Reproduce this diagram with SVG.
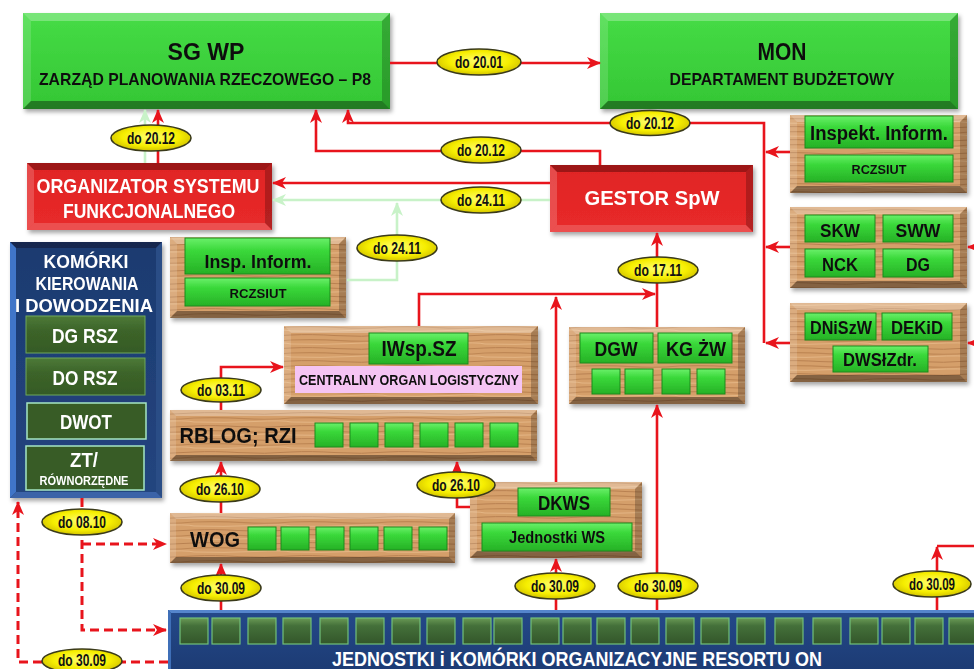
<svg xmlns="http://www.w3.org/2000/svg" width="974" height="669" viewBox="0 0 974 669">
<defs>
<style>
text{font-family:"Liberation Sans",Arial,sans-serif;font-weight:bold;text-anchor:middle}
.dk{fill:#111}
.wh{fill:#fff}
.tl{fill:#fff;opacity:.28}
.ll{fill:#fff;opacity:.14}
.rd{fill:#000;opacity:.22}
.bd{fill:#000;opacity:.38}
.it{fill:#000;opacity:.3}
.ib{fill:#fff;opacity:.18}
.btn{fill:url(#gBtn);stroke:#1d8a1d;stroke-width:1}
.sq{fill:url(#gBtn);stroke:#1d8a1d;stroke-width:1}
.dsq{fill:url(#gDsq);stroke:#72c07a;stroke-width:1.2}
.wood{fill:url(#wood)}
.ln{fill:none;stroke:#e8141c;stroke-width:2.6;marker-end:url(#ar)}
.lnn{fill:none;stroke:#e8141c;stroke-width:2.6}
.lg{fill:none;stroke:#c8f2c8;stroke-width:2.6;marker-end:url(#ag)}
.ds{fill:none;stroke:#e8141c;stroke-width:3;stroke-dasharray:9 5;marker-end:url(#ar)}
.lab ellipse{fill:url(#gYel);stroke:#3a3a1a;stroke-width:1.6}
.lab text{font-size:16px;fill:#111}
.sh{filter:url(#shadow)}
</style>
<filter id="shadow" x="-10%" y="-10%" width="130%" height="140%">
<feDropShadow dx="2" dy="3" stdDeviation="2" flood-color="#000" flood-opacity=".35"/>
</filter>
<marker id="ar" viewBox="0 0 14 12" markerWidth="14" markerHeight="12" refX="13" refY="6" orient="auto" markerUnits="userSpaceOnUse">
<path d="M0,0 L14,6 L0,12 L4,6 z" fill="#e8141c"/>
</marker>
<marker id="ag" viewBox="0 0 14 12" markerWidth="14" markerHeight="12" refX="13" refY="6" orient="auto" markerUnits="userSpaceOnUse">
<path d="M0,0 L14,6 L0,12 L4,6 z" fill="#c8f2c8"/>
</marker>
<linearGradient id="gGreen" x1="0" y1="0" x2="0" y2="1"><stop offset="0" stop-color="#46dc46"/><stop offset="1" stop-color="#34c634"/></linearGradient>
<linearGradient id="gBtn" x1="0" y1="0" x2="0" y2="1"><stop offset="0" stop-color="#6af06a"/><stop offset=".35" stop-color="#3ad83a"/><stop offset="1" stop-color="#26b126"/></linearGradient>
<linearGradient id="gDsq" x1="0" y1="0" x2="0" y2="1"><stop offset="0" stop-color="#6a9a55"/><stop offset=".3" stop-color="#44703a"/><stop offset="1" stop-color="#33562a"/></linearGradient>
<linearGradient id="gRed" x1="0" y1="0" x2="0" y2="1"><stop offset="0" stop-color="#e02424"/><stop offset="1" stop-color="#e82a2a"/></linearGradient>
<linearGradient id="gBlue" x1="0" y1="0" x2="0" y2="1"><stop offset="0" stop-color="#1c3a70"/><stop offset="1" stop-color="#23457f"/></linearGradient>
<linearGradient id="gBand" x1="0" y1="0" x2="0" y2="1"><stop offset="0" stop-color="#24498a"/><stop offset="1" stop-color="#1c3a72"/></linearGradient>
<linearGradient id="gPan" x1="0" y1="0" x2="0" y2="1"><stop offset="0" stop-color="#4d7a38"/><stop offset=".4" stop-color="#3c6429"/><stop offset="1" stop-color="#355a25"/></linearGradient>
<radialGradient id="gYel" cx=".5" cy=".45" r=".6"><stop offset="0" stop-color="#ffff70"/><stop offset=".6" stop-color="#f6ee00"/><stop offset="1" stop-color="#c9b800"/></radialGradient>
<pattern id="wood" width="97" height="13" patternUnits="userSpaceOnUse">
<rect width="97" height="13" fill="#d59f6b"/>
<path d="M0,2 Q25,1 50,2.6 T97,2" stroke="#bf8754" stroke-width="1.2" fill="none"/>
<path d="M0,6 Q30,7 60,5.5 T97,6" stroke="#e4b583" stroke-width="1" fill="none"/>
<path d="M0,10 Q20,9 45,10.6 T97,10" stroke="#b98150" stroke-width="1" fill="none"/>
</pattern>
</defs>
<rect width="974" height="669" fill="#fff"/>

<!-- SG WP -->
<g id="sgwp" class="sh">
<rect x="23" y="13" width="367" height="96" fill="url(#gGreen)"/>
<polygon class="tl" points="23,13 390,13 382,21 31,21"/>
<polygon class="ll" points="23,13 31,21 31,101 23,109"/>
<polygon class="rd" points="390,13 390,109 382,101 382,21"/>
<polygon class="bd" points="23,109 31,101 382,101 390,109"/>
<text class="dk" x="206" y="60" font-size="24" textLength="77" lengthAdjust="spacingAndGlyphs">SG WP</text>
<text class="dk" x="205" y="85" font-size="17" textLength="332" lengthAdjust="spacingAndGlyphs">ZARZĄD PLANOWANIA RZECZOWEGO – P8</text>
</g>

<!-- MON -->
<g id="mon" class="sh">
<rect x="600" y="13" width="358" height="96" fill="url(#gGreen)"/>
<polygon class="tl" points="600,13 958,13 950,21 608,21"/>
<polygon class="ll" points="600,13 608,21 608,101 600,109"/>
<polygon class="rd" points="958,13 958,109 950,101 950,21"/>
<polygon class="bd" points="600,109 608,101 950,101 958,109"/>
<text class="dk" x="782" y="60" font-size="24" textLength="49" lengthAdjust="spacingAndGlyphs">MON</text>
<text class="dk" x="782" y="85" font-size="17" textLength="225" lengthAdjust="spacingAndGlyphs">DEPARTAMENT BUDŻETOWY</text>
</g>

<!-- ORGANIZATOR -->
<g id="organizator" class="sh">
<rect x="27" y="163" width="245" height="67" fill="url(#gRed)"/>
<polygon class="it" points="27,163 272,163 265,170 34,170"/>
<polygon class="ib" points="27,163 34,170 34,223 27,230"/>
<polygon class="rd" points="272,163 272,230 265,223 265,170"/>
<polygon class="ib" points="27,230 34,223 265,223 272,230"/>
<text class="wh" x="148" y="193" font-size="20" textLength="223" lengthAdjust="spacingAndGlyphs">ORGANIZATOR  SYSTEMU</text>
<text class="wh" x="149" y="218" font-size="20" textLength="172" lengthAdjust="spacingAndGlyphs">FUNKCJONALNEGO</text>
</g>

<!-- GESTOR -->
<g id="gestor" class="sh">
<rect x="550" y="165" width="203" height="67" fill="url(#gRed)"/>
<polygon class="it" points="550,165 753,165 746,172 557,172"/>
<polygon class="ib" points="550,165 557,172 557,225 550,232"/>
<polygon class="rd" points="753,165 753,232 746,225 746,172"/>
<polygon class="ib" points="550,232 557,225 746,225 753,232"/>
<text class="wh" x="652" y="205" font-size="21" textLength="135" lengthAdjust="spacingAndGlyphs">GESTOR SpW</text>
</g>

<!-- Insp. Inform. (left) -->
<g id="insp-left" class="sh">
<rect class="wood" x="170" y="237" width="176" height="81"/>
<polygon class="tl" points="170,237 346,237 339,244 177,244"/>
<polygon class="ll" points="170,237 177,244 177,311 170,318"/>
<polygon class="rd" points="346,237 346,318 339,311 339,244"/>
<polygon class="bd" points="170,318 177,311 339,311 346,318"/>
<rect class="btn" x="185" y="238" width="145" height="36"/>
<rect class="btn" x="185" y="278" width="145" height="28"/>
<text class="dk" x="258" y="268" font-size="18" textLength="107" lengthAdjust="spacingAndGlyphs">Insp. Inform.</text>
<text class="dk" x="258" y="298" font-size="13" textLength="57" lengthAdjust="spacingAndGlyphs">RCZSIUT</text>
</g>

<!-- KOMORKI panel -->
<g id="komorki" class="sh">
<rect x="10" y="242" width="152" height="256" fill="url(#gBlue)"/>
<polygon class="it" points="10,242 162,242 156,248 16,248"/>
<polygon fill="#3f74c8" points="10,242 16,248 16,492 10,498"/>
<polygon fill="#2b4d86" points="162,242 162,498 156,492 156,248"/>
<polygon fill="#3a63a8" points="10,498 16,492 156,492 162,498"/>
<text class="wh" x="86" y="268" font-size="18" textLength="85" lengthAdjust="spacingAndGlyphs">KOMÓRKI</text>
<text class="wh" x="87" y="290" font-size="18" textLength="103" lengthAdjust="spacingAndGlyphs">KIEROWANIA</text>
<text class="wh" x="84" y="312" font-size="18" textLength="138" lengthAdjust="spacingAndGlyphs">I DOWODZENIA</text>
<rect x="26" y="316" width="119" height="37" fill="url(#gPan)" stroke="#6ea85a" stroke-width="1"/>
<text class="wh" x="85" y="343" font-size="20" textLength="66" lengthAdjust="spacingAndGlyphs">DG RSZ</text>
<rect x="26" y="358" width="119" height="37" fill="url(#gPan)" stroke="#6ea85a" stroke-width="1"/>
<text class="wh" x="85" y="385" font-size="20" textLength="65" lengthAdjust="spacingAndGlyphs">DO RSZ</text>
<rect x="27" y="403" width="119" height="36" fill="#375c27" stroke="#a6e6c4" stroke-width="1.5"/>
<text class="wh" x="86" y="429" font-size="20" textLength="52" lengthAdjust="spacingAndGlyphs">DWOT</text>
<rect x="26" y="446" width="118" height="44" fill="#375c27" stroke="#a6e6c4" stroke-width="1.5"/>
<text class="wh" x="84" y="467" font-size="20" textLength="28" lengthAdjust="spacingAndGlyphs">ZT/</text>
<text class="wh" x="84" y="485" font-size="12" textLength="89" lengthAdjust="spacingAndGlyphs">RÓWNORZĘDNE</text>
</g>

<!-- IWsp.SZ -->
<g id="iwsp" class="sh">
<rect class="wood" x="284" y="326" width="254" height="78"/>
<polygon class="tl" points="284,326 538,326 531,333 291,333"/>
<polygon class="ll" points="284,326 291,333 291,397 284,404"/>
<polygon class="rd" points="538,326 538,404 531,397 531,333"/>
<polygon class="bd" points="284,404 291,397 531,397 538,404"/>
<rect class="btn" x="369" y="333" width="99" height="31"/>
<text class="dk" x="419" y="356" font-size="22" textLength="75" lengthAdjust="spacingAndGlyphs">IWsp.SZ</text>
<rect x="295" y="366" width="227" height="27" fill="#f5c4f3"/>
<text class="dk" x="409" y="385" font-size="15" textLength="220" lengthAdjust="spacingAndGlyphs">CENTRALNY ORGAN LOGISTYCZNY</text>
</g>

<!-- DGW / KG ZW -->
<g id="dgw" class="sh">
<rect class="wood" x="569" y="327" width="176" height="77"/>
<polygon class="tl" points="569,327 745,327 738,334 576,334"/>
<polygon class="ll" points="569,327 576,334 576,397 569,404"/>
<polygon class="rd" points="745,327 745,404 738,397 738,334"/>
<polygon class="bd" points="569,404 576,397 738,397 745,404"/>
<rect class="btn" x="580" y="333" width="73" height="30"/>
<rect class="btn" x="658" y="333" width="74" height="30"/>
<text class="dk" x="616" y="356" font-size="20" textLength="43" lengthAdjust="spacingAndGlyphs">DGW</text>
<text class="dk" x="696" y="356" font-size="20" textLength="60" lengthAdjust="spacingAndGlyphs">KG ŻW</text>
<rect class="sq" x="592" y="369" width="28" height="25"/>
<rect class="sq" x="625" y="369" width="28" height="25"/>
<rect class="sq" x="662" y="369" width="28" height="25"/>
<rect class="sq" x="697" y="369" width="28" height="25"/>
</g>

<!-- RBLOG -->
<g id="rblog" class="sh">
<rect class="wood" x="170" y="410" width="367" height="51"/>
<polygon class="tl" points="170,410 537,410 531,416 176,416"/>
<polygon class="ll" points="170,410 176,416 176,455 170,461"/>
<polygon class="rd" points="537,410 537,461 531,455 531,416"/>
<polygon class="bd" points="170,461 176,455 531,455 537,461"/>
<text class="dk" x="238" y="443" font-size="22" textLength="117" lengthAdjust="spacingAndGlyphs">RBLOG; RZI</text>
<rect class="sq" x="315" y="423" width="28" height="24"/>
<rect class="sq" x="350" y="423" width="28" height="24"/>
<rect class="sq" x="385" y="423" width="28" height="24"/>
<rect class="sq" x="420" y="423" width="28" height="24"/>
<rect class="sq" x="455" y="423" width="28" height="24"/>
<rect class="sq" x="490" y="423" width="28" height="24"/>
</g>

<!-- WOG -->
<g id="wog" class="sh">
<rect class="wood" x="170" y="513" width="285" height="50"/>
<polygon class="tl" points="170,513 455,513 449,519 176,519"/>
<polygon class="ll" points="170,513 176,519 176,557 170,563"/>
<polygon class="rd" points="455,513 455,563 449,557 449,519"/>
<polygon class="bd" points="170,563 176,557 449,557 455,563"/>
<text class="dk" x="215" y="547" font-size="22" textLength="50" lengthAdjust="spacingAndGlyphs">WOG</text>
<rect class="sq" x="248" y="527" width="28" height="23"/>
<rect class="sq" x="281" y="527" width="28" height="23"/>
<rect class="sq" x="316" y="527" width="28" height="23"/>
<rect class="sq" x="350" y="527" width="28" height="23"/>
<rect class="sq" x="384" y="527" width="28" height="23"/>
<rect class="sq" x="419" y="527" width="28" height="23"/>
</g>

<!-- DKWS -->
<g id="dkws" class="sh">
<rect class="wood" x="470" y="482" width="172" height="76"/>
<polygon class="tl" points="470,482 642,482 635,489 477,489"/>
<polygon class="ll" points="470,482 477,489 477,551 470,558"/>
<polygon class="rd" points="642,482 642,558 635,551 635,489"/>
<polygon class="bd" points="470,558 477,551 635,551 642,558"/>
<rect class="btn" x="518" y="488" width="92" height="28"/>
<text class="dk" x="564" y="510" font-size="20" textLength="52" lengthAdjust="spacingAndGlyphs">DKWS</text>
<rect class="btn" x="482" y="523" width="150" height="28"/>
<text class="dk" x="557" y="543" font-size="16" textLength="96" lengthAdjust="spacingAndGlyphs">Jednostki WS</text>
</g>

<!-- Inspekt. Inform. (right) -->
<g id="inspekt-right" class="sh">
<rect class="wood" x="790" y="115" width="177" height="78"/>
<polygon class="tl" points="790,115 967,115 960,122 797,122"/>
<polygon class="ll" points="790,115 797,122 797,186 790,193"/>
<polygon class="rd" points="967,115 967,193 960,186 960,122"/>
<polygon class="bd" points="790,193 797,186 960,186 967,193"/>
<rect class="btn" x="805" y="116" width="148" height="32"/>
<text class="dk" x="879" y="140" font-size="20" textLength="138" lengthAdjust="spacingAndGlyphs">Inspekt. Inform.</text>
<rect class="btn" x="805" y="155" width="148" height="27"/>
<text class="dk" x="879" y="174" font-size="13" textLength="55" lengthAdjust="spacingAndGlyphs">RCZSIUT</text>
</g>

<!-- SKW group -->
<g id="skw" class="sh">
<rect class="wood" x="790" y="207" width="177" height="81"/>
<polygon class="tl" points="790,207 967,207 960,214 797,214"/>
<polygon class="ll" points="790,207 797,214 797,281 790,288"/>
<polygon class="rd" points="967,207 967,288 960,281 960,214"/>
<polygon class="bd" points="790,288 797,281 960,281 967,288"/>
<rect class="btn" x="805" y="215" width="70" height="27"/>
<rect class="btn" x="883" y="215" width="70" height="27"/>
<rect class="btn" x="805" y="249" width="70" height="28"/>
<rect class="btn" x="883" y="249" width="70" height="28"/>
<text class="dk" x="840" y="237" font-size="19" textLength="40" lengthAdjust="spacingAndGlyphs">SKW</text>
<text class="dk" x="918" y="237" font-size="19" textLength="45" lengthAdjust="spacingAndGlyphs">SWW</text>
<text class="dk" x="840" y="271" font-size="19" textLength="36" lengthAdjust="spacingAndGlyphs">NCK</text>
<text class="dk" x="918" y="271" font-size="19" textLength="24" lengthAdjust="spacingAndGlyphs">DG</text>
</g>

<!-- DNiSzW group -->
<g id="dniszw" class="sh">
<rect class="wood" x="790" y="303" width="177" height="79"/>
<polygon class="tl" points="790,303 967,303 960,310 797,310"/>
<polygon class="ll" points="790,303 797,310 797,375 790,382"/>
<polygon class="rd" points="967,303 967,382 960,375 960,310"/>
<polygon class="bd" points="790,382 797,375 960,375 967,382"/>
<rect class="btn" x="805" y="313" width="71" height="27"/>
<rect class="btn" x="882" y="313" width="70" height="27"/>
<rect class="btn" x="833" y="346" width="95" height="26"/>
<text class="dk" x="841" y="334" font-size="18" textLength="62" lengthAdjust="spacingAndGlyphs">DNiSzW</text>
<text class="dk" x="917" y="334" font-size="18" textLength="52" lengthAdjust="spacingAndGlyphs">DEKiD</text>
<text class="dk" x="880" y="366" font-size="18" textLength="74" lengthAdjust="spacingAndGlyphs">DWSłZdr.</text>
</g>

<!-- Bottom band -->
<g id="jednostki">
<rect x="168" y="610" width="812" height="65" fill="url(#gBand)"/>
<polygon fill="#5585cc" points="168,610 980,610 980,613 171,613"/>
<polygon fill="#3f6fb8" points="168,610 171,613 171,675 168,675"/>
<rect class="dsq" x="180" y="618" width="28" height="26"/>
<rect class="dsq" x="212" y="618" width="28" height="26"/>
<rect class="dsq" x="248" y="618" width="28" height="26"/>
<rect class="dsq" x="283" y="618" width="28" height="26"/>
<rect class="dsq" x="320" y="618" width="28" height="26"/>
<rect class="dsq" x="356" y="618" width="28" height="26"/>
<rect class="dsq" x="392" y="618" width="28" height="26"/>
<rect class="dsq" x="427" y="618" width="28" height="26"/>
<rect class="dsq" x="463" y="618" width="28" height="26"/>
<rect class="dsq" x="494" y="618" width="28" height="26"/>
<rect class="dsq" x="531" y="618" width="28" height="26"/>
<rect class="dsq" x="563" y="618" width="28" height="26"/>
<rect class="dsq" x="597" y="618" width="28" height="26"/>
<rect class="dsq" x="631" y="618" width="28" height="26"/>
<rect class="dsq" x="666" y="618" width="28" height="26"/>
<rect class="dsq" x="701" y="618" width="28" height="26"/>
<rect class="dsq" x="737" y="618" width="28" height="26"/>
<rect class="dsq" x="775" y="618" width="28" height="26"/>
<rect class="dsq" x="813" y="618" width="28" height="26"/>
<rect class="dsq" x="850" y="618" width="28" height="26"/>
<rect class="dsq" x="882" y="618" width="28" height="26"/>
<rect class="dsq" x="915" y="618" width="28" height="26"/>
<rect class="dsq" x="949" y="618" width="28" height="26"/>
<text class="wh" x="577" y="666" font-size="20" textLength="490" lengthAdjust="spacingAndGlyphs">JEDNOSTKI  i KOMÓRKI  ORGANIZACYJNE  RESORTU  ON</text>
</g>

<!-- Connectors -->
<g id="connectors">
<path class="lg" d="M145,163 V110"/>
<path class="lg" d="M550,200 H273"/>
<path class="lg" d="M347,280 H397 V203"/>
<path class="ln" d="M390,63 H600"/>
<path class="ln" d="M158,163 V110"/>
<path class="ln" d="M600,165 V151 H316 V110"/>
<path class="ln" d="M764,343 V123 H348 V110"/>
<path class="ln" d="M550,183 H273"/>
<path class="ln" d="M790,152 H766"/>
<path class="ln" d="M790,247 H766"/>
<path class="ln" d="M790,343 H766"/>
<path class="ln" d="M990,247 H968"/>
<path class="ln" d="M990,343 H968"/>
<path class="ln" d="M419,326 V294 H655"/>
<path class="ln" d="M556,482 V297"/>
<path class="ln" d="M657,327 V233"/>
<path class="ln" d="M657,610 V405"/>
<path class="ln" d="M556,610 V559"/>
<path class="ln" d="M937,610 V547"/>
<path class="lnn" d="M937,546 H980"/>
<path class="ln" d="M221,410 V367 H283"/>
<path class="ln" d="M221,513 V462"/>
<path class="ln" d="M221,610 V564"/>
<path class="ln" d="M470,507 H457 V462"/>
<path class="ds" d="M82,498 V630 H166"/>
<path class="ds" d="M82,544 H166"/>
<path class="ds" d="M168,662 H18 V502"/>
<g class="lab">
<ellipse cx="479" cy="62" rx="42" ry="13"/><text x="479" y="67.5" textLength="48" lengthAdjust="spacingAndGlyphs">do 20.01</text>
<ellipse cx="151" cy="138" rx="40" ry="13"/><text x="151" y="143.5" textLength="48" lengthAdjust="spacingAndGlyphs">do 20.12</text>
<ellipse cx="481" cy="150" rx="40" ry="13"/><text x="481" y="155.5" textLength="48" lengthAdjust="spacingAndGlyphs">do 20.12</text>
<ellipse cx="650" cy="123" rx="40" ry="12.5"/><text x="650" y="128.5" textLength="48" lengthAdjust="spacingAndGlyphs">do 20.12</text>
<ellipse cx="481" cy="200" rx="40" ry="13"/><text x="481" y="205.5" textLength="48" lengthAdjust="spacingAndGlyphs">do 24.11</text>
<ellipse cx="397" cy="248" rx="40" ry="13"/><text x="397" y="253.5" textLength="48" lengthAdjust="spacingAndGlyphs">do 24.11</text>
<ellipse cx="658" cy="270" rx="40" ry="13"/><text x="658" y="275.5" textLength="48" lengthAdjust="spacingAndGlyphs">do 17.11</text>
<ellipse cx="221" cy="390" rx="40" ry="12"/><text x="221" y="395.5" textLength="48" lengthAdjust="spacingAndGlyphs">do 03.11</text>
<ellipse cx="220" cy="489" rx="40" ry="13"/><text x="220" y="494.5" textLength="48" lengthAdjust="spacingAndGlyphs">do 26.10</text>
<ellipse cx="456" cy="485" rx="39" ry="13"/><text x="456" y="490.5" textLength="48" lengthAdjust="spacingAndGlyphs">do 26.10</text>
<ellipse cx="82" cy="522" rx="40" ry="13"/><text x="82" y="527.5" textLength="48" lengthAdjust="spacingAndGlyphs">do 08.10</text>
<ellipse cx="221" cy="588" rx="40" ry="13"/><text x="221" y="593.5" textLength="48" lengthAdjust="spacingAndGlyphs">do 30.09</text>
<ellipse cx="555" cy="586" rx="40" ry="13"/><text x="555" y="591.5" textLength="48" lengthAdjust="spacingAndGlyphs">do 30.09</text>
<ellipse cx="658" cy="586" rx="40" ry="13"/><text x="658" y="591.5" textLength="48" lengthAdjust="spacingAndGlyphs">do 30.09</text>
<ellipse cx="932" cy="584" rx="39" ry="13"/><text x="932" y="589.5" font-size="15" textLength="46" lengthAdjust="spacingAndGlyphs">do 30.09</text>
<ellipse cx="82" cy="661" rx="40" ry="12"/><text x="82" y="666" textLength="48" lengthAdjust="spacingAndGlyphs">do 30.09</text>
</g>
</g>
</svg>
